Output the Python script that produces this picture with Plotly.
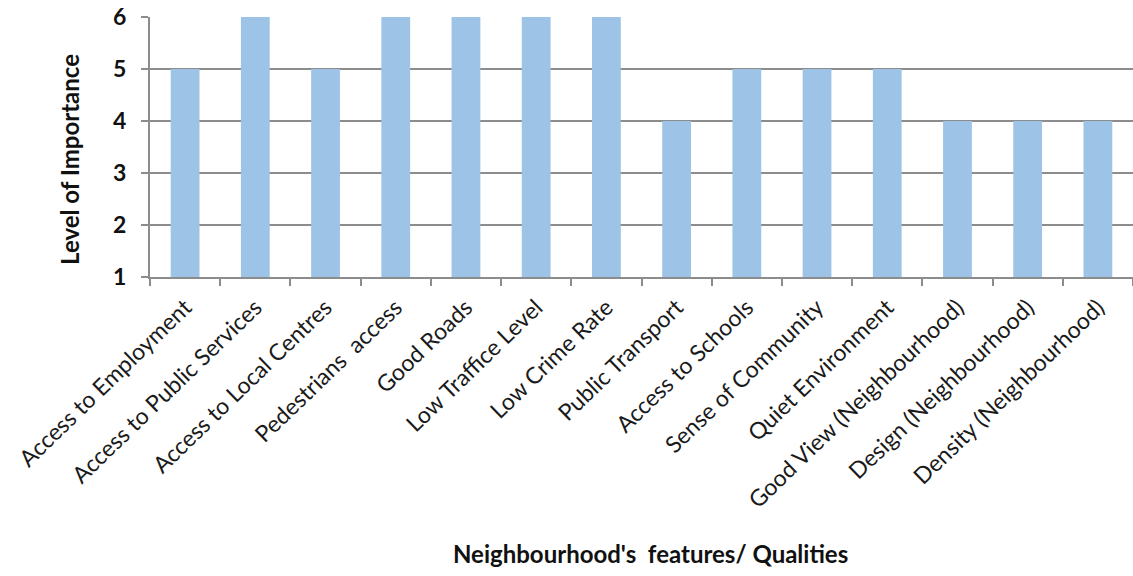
import plotly.graph_objects as go

features = [
    "Access to Employment",
    "Access to Public Services",
    "Access to Local Centres",
    "Pedestrians  access",
    "Good Roads",
    "Low Traffice Level",
    "Low Crime Rate",
    "Public Transport",
    "Access to Schools",
    "Sense of Community",
    "Quiet Environment",
    "Good View (Neighbourhood)",
    "Design (Neighbourhood)",
    "Density (Neighbourhood)",
]
importance = [5, 6, 5, 6, 6, 6, 6, 4, 5, 5, 5, 4, 4, 4]
y_ticks = [1, 2, 3, 4, 5, 6]

grid_col = "#8c8c8c"
font_family = "Lato, 'Open Sans', sans-serif"

fig = go.Figure(
    go.Bar(
        x=features,
        y=importance,
        marker=dict(color="#9dc3e6", line=dict(width=0)),
        hoverinfo="x+y",
    )
)

fig.update_layout(
    width=1133,
    height=576,
    margin=dict(l=150, r=0, t=17, b=299),
    plot_bgcolor="white",
    paper_bgcolor="white",
    bargap=0.59,
    showlegend=False,
    font=dict(family=font_family, color="#1a1a1a"),
    annotations=[
        dict(
            text="<b>Neighbourhood's  features/ Qualities</b>",
            xref="paper", yref="paper",
            x=0.509, y=0, yshift=-293,
            showarrow=False,
            font=dict(size=24, family=font_family, color="#111"),
        ),
        dict(
            text="<b>Level of Importance</b>",
            xref="paper", yref="paper",
            x=-0.0814, y=0.454,
            xanchor="center", yanchor="middle",
            textangle=-90,
            showarrow=False,
            font=dict(size=24, family=font_family, color="#111"),
        ),
    ],
)

fig.update_xaxes(
    type="category",
    tickangle=-44,
    tickfont=dict(size=23, family=font_family, color="#1a1a1a"),
    ticklabelstandoff=6,
    showline=True,
    linecolor=grid_col,
    linewidth=2,
    ticks="outside",
    tickson="boundaries",
    ticklen=7,
    tickwidth=2,
    tickcolor=grid_col,
    showgrid=False,
)

fig.update_yaxes(
    range=[1, 6],
    tickvals=y_ticks,
    ticktext=[f"<b>{v}</b>" for v in y_ticks],
    tickfont=dict(size=23, family=font_family, color="#111"),
    ticklabelstandoff=10,
    showgrid=True,
    gridcolor=grid_col,
    gridwidth=2,
    showline=True,
    linecolor=grid_col,
    linewidth=2,
    ticks="outside",
    ticklen=7,
    tickwidth=2,
    tickcolor=grid_col,
    zeroline=False,
)

fig.write_html("out.html")
